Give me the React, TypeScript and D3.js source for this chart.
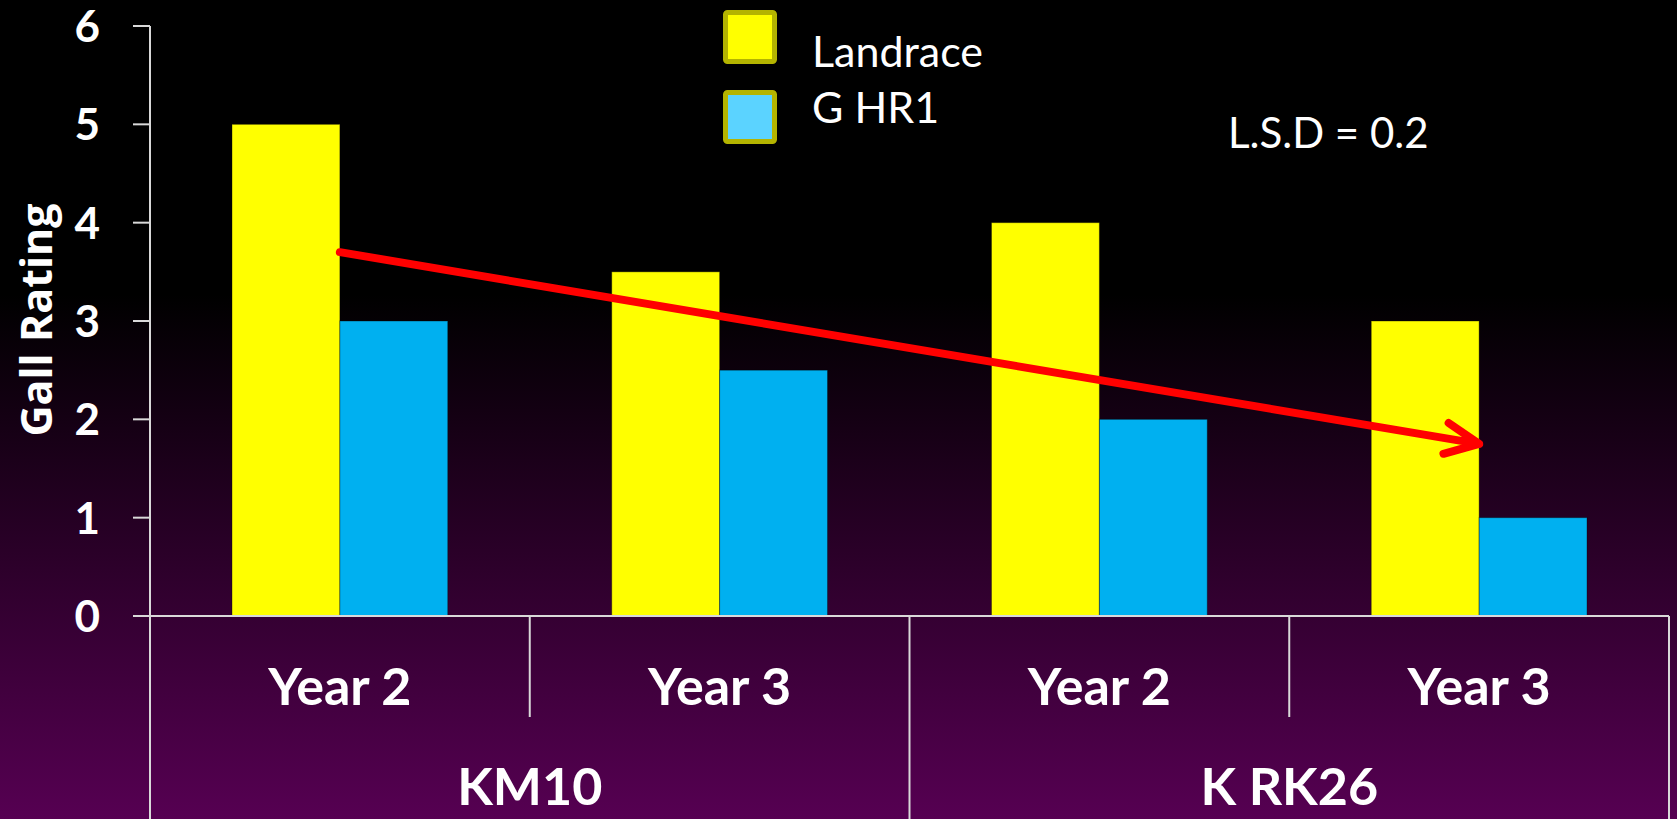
import React, { useEffect, useRef } from "react";
import * as d3 from "d3";

const categories = ["Year 2", "Year 3", "Year 2", "Year 3"];
const groups = ["KM10", "K RK26"];
const landrace = [5, 3.5, 4, 3];
const ghr1 = [3, 2.5, 2, 1];
const seriesNames = ["Landrace", "G HR1"];
const yTicks = [0, 1, 2, 3, 4, 5, 6];
// trend arrow, in data units (category index, value)
const arrowFrom = { cat: 0, value: 3.7 };
const arrowTo = { cat: 3, value: 1.75 };

const W = 1677;
const H = 819;

const GallChart = () => {
  const ref = useRef(null);

  useEffect(() => {
    const svg = d3.select(ref.current).attr("width", W).attr("height", H);
    svg.selectAll("*").remove();

    const defs = svg.append("defs");
    const grad = defs
      .append("linearGradient")
      .attr("id", "bg")
      .attr("x1", 0)
      .attr("y1", 0)
      .attr("x2", 0)
      .attr("y2", 1);
    grad.append("stop").attr("offset", "0.36").attr("stop-color", "#000000");
    grad.append("stop").attr("offset", "1").attr("stop-color", "#560052");

    svg.append("rect").attr("width", W).attr("height", H).attr("fill", "url(#bg)");

    const left = 150;
    const right = 1669;
    const y = d3.scaleLinear().domain([0, 6]).range([616, 26]);
    const x = d3
      .scaleBand()
      .domain(d3.range(categories.length).map(String))
      .range([left, right])
      .padding(0);
    const xs = d3
      .scaleBand()
      .domain(seriesNames)
      .range([0, x.bandwidth()])
      .paddingInner(0)
      .paddingOuter(0.76);

    const axisColor = "#d9d9d9";

    // bars
    const series = [landrace, ghr1];
    const colors = ["#ffff00", "#00b0f0"];
    series.forEach((vals, si) => {
      svg
        .append("g")
        .selectAll("rect")
        .data(vals)
        .enter()
        .append("rect")
        .attr("x", (d, i) => x(String(i)) + xs(seriesNames[si]))
        .attr("y", (d) => y(d))
        .attr("width", xs.bandwidth())
        .attr("height", (d) => y(0) - y(d))
        .attr("fill", colors[si])
        .attr("stroke", "rgba(0,0,0,0.35)")
        .attr("stroke-width", 1);
    });

    // y axis
    const ax = svg.append("g").attr("stroke", axisColor).attr("stroke-width", 2);
    ax.append("line").attr("x1", left).attr("x2", left).attr("y1", y(6)).attr("y2", H);
    yTicks.forEach((t) => {
      ax.append("line").attr("x1", left - 17).attr("x2", left).attr("y1", y(t)).attr("y2", y(t));
    });
    svg
      .append("g")
      .selectAll("text")
      .data(yTicks)
      .enter()
      .append("text")
      .attr("x", 100)
      .attr("y", (d) => y(d))
      .attr("dy", "0.36em")
      .attr("text-anchor", "end")
      .attr("fill", "#fff")
      .style("font-family", "Lato")
      .style("font-weight", 700)
      .style("font-size", "44px")
      .text((d) => d);

    // x axis and category dividers
    ax.append("line").attr("x1", left).attr("x2", right).attr("y1", y(0)).attr("y2", y(0));
    categories.forEach((c, i) => {
      const xr = x(String(i)) + x.bandwidth();
      const groupEnd = i % 2 === 1;
      ax.append("line")
        .attr("x1", xr)
        .attr("x2", xr)
        .attr("y1", y(0))
        .attr("y2", groupEnd ? H : 717);
    });

    svg
      .append("g")
      .selectAll("text")
      .data(categories)
      .enter()
      .append("text")
      .attr("x", (d, i) => x(String(i)) + x.bandwidth() / 2)
      .attr("y", 705)
      .attr("text-anchor", "middle")
      .attr("fill", "#fff")
      .style("font-family", "Lato")
      .style("font-weight", 700)
      .style("font-size", "52px")
      .text((d) => d);

    svg
      .append("g")
      .selectAll("text")
      .data(groups)
      .enter()
      .append("text")
      .attr("x", (d, i) => x(String(i * 2)) + x.bandwidth())
      .attr("y", 805)
      .attr("text-anchor", "middle")
      .attr("fill", "#fff")
      .style("font-family", "Lato")
      .style("font-weight", 700)
      .style("font-size", "52px")
      .text((d) => d);

    // y axis title
    svg
      .append("text")
      .attr("transform", "translate(52, 320) rotate(-90)")
      .attr("text-anchor", "middle")
      .attr("fill", "#fff")
      .style("font-family", "Open Sans")
      .style("font-weight", 700)
      .style("font-size", "43px")
      .text("Gall Rating");

    // legend
    const lg = svg.append("g");
    seriesNames.forEach((name, i) => {
      lg.append("rect")
        .attr("x", 725.5)
        .attr("y", 12.5 + i * 80)
        .attr("width", 49)
        .attr("height", 49)
        .attr("rx", 2)
        .attr("fill", i === 0 ? "#ffff00" : "#5bd3ff")
        .attr("stroke", "#b4b400")
        .attr("stroke-width", 5);
      lg.append("text")
        .attr("x", 812)
        .attr("y", 67 + i * 56)
        .attr("fill", "#fff")
        .style("font-family", "Lato")
        .style("font-size", "43px")
        .text(name);
    });

    svg
      .append("text")
      .attr("x", 1228)
      .attr("y", 148)
      .attr("fill", "#fff")
      .style("font-family", "Lato")
      .style("font-size", "42px")
      .text("L.S.D = 0.2");

    // trend arrow
    const x0 = x(String(arrowFrom.cat)) + xs(seriesNames[1]);
    const y0 = y(arrowFrom.value);
    const x1 = x(String(arrowTo.cat)) + xs(seriesNames[1]);
    const y1 = y(arrowTo.value);
    const ang = Math.atan2(y1 - y0, x1 - x0);
    const headLen = 37;
    const spread = (25 * Math.PI) / 180;
    const a1 = [x1 - headLen * Math.cos(ang - spread), y1 - headLen * Math.sin(ang - spread)];
    const a2 = [x1 - headLen * Math.cos(ang + spread), y1 - headLen * Math.sin(ang + spread)];
    const p = d3.path();
    p.moveTo(x0, y0);
    p.lineTo(x1, y1);
    p.moveTo(a1[0], a1[1]);
    p.lineTo(x1, y1);
    p.lineTo(a2[0], a2[1]);
    svg
      .append("path")
      .attr("d", p.toString())
      .attr("fill", "none")
      .attr("stroke", "#ff0000")
      .attr("stroke-width", 8)
      .attr("stroke-linecap", "round")
      .attr("stroke-linejoin", "round");
  }, []);

  return (
    <svg
      ref={ref}
      style={{ position: "fixed", left: 0, top: 0, display: "block" }}
    ></svg>
  );
};

export default function App() {
  return <GallChart />;
}
